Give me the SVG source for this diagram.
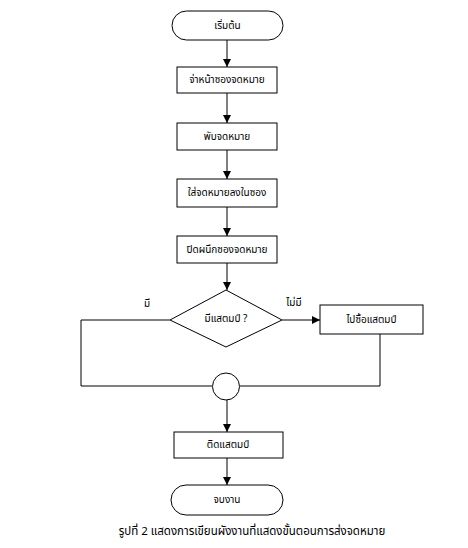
<svg xmlns="http://www.w3.org/2000/svg" width="468" height="548" viewBox="0 0 468 548">
<style>
.s{fill:#fff;stroke:#000;stroke-width:1}
.t{font-family:"Noto Sans Thai","Tahoma","Liberation Sans","DejaVu Sans",sans-serif;font-size:10px;fill:#000;text-anchor:middle;dominant-baseline:central}
.c{fill:none;stroke:#000;stroke-width:1}
.cap{font-family:"Noto Sans Thai","Tahoma","Liberation Sans","DejaVu Sans",sans-serif;font-size:11.5px;fill:#000;text-anchor:middle;dominant-baseline:central}
</style>
<defs>
<marker id="ah" viewBox="0 0 10 10" refX="10" refY="5" markerWidth="8" markerHeight="8" markerUnits="userSpaceOnUse" orient="auto">
<path d="M0,0 L10,5 L0,10 z" fill="#000"/>
</marker>
</defs>
<rect width="468" height="548" fill="#fff"/>
<g id="connectors">
<line class="c" x1="227" y1="40" x2="227" y2="67" marker-end="url(#ah)"/>
<line class="c" x1="227" y1="93" x2="227" y2="123" marker-end="url(#ah)"/>
<line class="c" x1="227" y1="150" x2="227" y2="179" marker-end="url(#ah)"/>
<line class="c" x1="227" y1="207" x2="227" y2="236" marker-end="url(#ah)"/>
<line class="c" x1="227" y1="263" x2="227" y2="290" marker-end="url(#ah)"/>
<line class="c" x1="282" y1="320" x2="320" y2="320" marker-end="url(#ah)"/>
<polyline class="c" points="170,320 81,320 81,386 212,386"/>
<polyline class="c" points="380,334 380,386 240,386"/>
<line class="c" x1="227" y1="400" x2="227" y2="432" marker-end="url(#ah)"/>
<line class="c" x1="227" y1="458" x2="227" y2="485" marker-end="url(#ah)"/>
</g>
<g id="start"><rect class="s" x="172" y="11" width="111" height="29" rx="14.5" ry="14.5"/><text class="t" x="227.5" y="25.5">เริ่มต้น</text></g>
<g id="n1"><rect class="s" x="177" y="67" width="100" height="26"/><text class="t" x="227" y="80">จ่าหน้าซองจดหมาย</text></g>
<g id="n2"><rect class="s" x="177" y="123" width="100" height="27"/><text class="t" x="227" y="136.5">พับจดหมาย</text></g>
<g id="n3"><rect class="s" x="177" y="179" width="100" height="28"/><text class="t" x="227" y="193">ใส่จดหมายลงในซอง</text></g>
<g id="n4"><rect class="s" x="177" y="236" width="100" height="27"/><text class="t" x="227" y="249.5">ปิดผนึกซองจดหมาย</text></g>
<g id="decision"><polygon class="s" points="226,290 282,320 226,347 170,320"/><text class="t" x="226" y="318.5">มีแสตมป์ ?</text></g>
<g id="buy"><rect class="s" x="320" y="305" width="103" height="29"/><text class="t" x="371.5" y="319.5">ไปซื้อแสตมป์</text></g>
<g id="join"><circle class="s" cx="226" cy="386.5" r="13.5"/></g>
<g id="stick"><rect class="s" x="174" y="432" width="109" height="26"/><text class="t" x="228" y="445">ติดแสตมป์</text></g>
<g id="end"><rect class="s" x="171" y="485" width="112" height="30" rx="15" ry="15"/><text class="t" x="227" y="500">จบงาน</text></g>
<g id="labels">
<text class="t" x="147" y="304">มี</text>
<text class="t" x="294" y="303">ไม่มี</text>
<text class="cap" x="252" y="531">รูปที่ 2 แสดงการเขียนผังงานที่แสดงขั้นตอนการส่งจดหมาย</text>
</g>
</svg>
